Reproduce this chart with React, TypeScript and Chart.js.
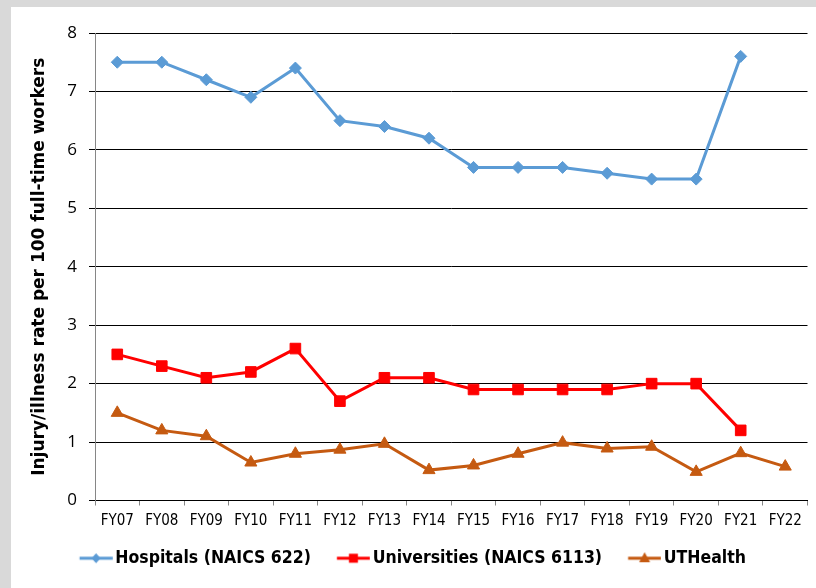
import React, { useEffect, useRef } from "react";
import { Chart, registerables } from "chart.js";

Chart.register(...registerables);

const categories = ["FY07", "FY08", "FY09", "FY10", "FY11", "FY12", "FY13", "FY14", "FY15", "FY16", "FY17", "FY18", "FY19", "FY20", "FY21", "FY22"];
const hospitals = [7.5, 7.5, 7.2, 6.9, 7.4, 6.5, 6.4, 6.2, 5.7, 5.7, 5.7, 5.6, 5.5, 5.5, 7.6, null];
const universities = [2.5, 2.3, 2.1, 2.2, 2.6, 1.7, 2.1, 2.1, 1.9, 1.9, 1.9, 1.9, 2.0, 2.0, 1.2, null];
const uthealth = [1.5, 1.2, 1.1, 0.65, 0.8, 0.87, 0.97, 0.52, 0.6, 0.8, 0.99, 0.89, 0.92, 0.49, 0.81, 0.58];
const seriesNames = ["Hospitals (NAICS 622)", "Universities (NAICS 6113)", "UTHealth"];
const seriesColors = ["#5b9bd5", "#ff0000", "#c55a11"];
const yMin = 0;
const yMax = 8;
const yStep = 1;
const yTitle = "Injury/illness rate per 100 full-time workers";

const condensed = "'DejaVu Sans Condensed', 'Liberation Sans Narrow', sans-serif";

function makeIcon(color: string, shape: string): HTMLCanvasElement {
  const c = document.createElement("canvas");
  c.width = 46;
  c.height = 14;
  const ctx = c.getContext("2d")!;
  ctx.strokeStyle = color;
  ctx.fillStyle = color;
  ctx.lineWidth = 3;
  const x0 = 12.75;
  const x1 = 45.75;
  ctx.beginPath();
  ctx.moveTo(x0, 7);
  ctx.lineTo(x1, 7);
  ctx.stroke();
  const cx = (x0 + x1) / 2, cy = 7;
  ctx.beginPath();
  if (shape === "diamond") {
    ctx.moveTo(cx, cy - 5);
    ctx.lineTo(cx + 4.5, cy);
    ctx.lineTo(cx, cy + 5);
    ctx.lineTo(cx - 4.5, cy);
  } else if (shape === "square") {
    ctx.rect(cx - 4.5, cy - 4.5, 9, 9);
  } else {
    ctx.moveTo(cx, cy - 6);
    ctx.lineTo(cx + 5.5, cy + 4);
    ctx.lineTo(cx - 5.5, cy + 4);
  }
  ctx.closePath();
  ctx.fill();
  return c;
}

export default function App() {
  const ref = useRef<HTMLCanvasElement>(null);
  useEffect(() => {
    const icons = [
      makeIcon(seriesColors[0], "diamond"),
      makeIcon(seriesColors[1], "square"),
      makeIcon(seriesColors[2], "triangle"),
    ];
    const mk = (i: number, data: (number | null)[], style: string, radius: number) => ({
      label: seriesNames[i],
      data,
      borderColor: seriesColors[i],
      backgroundColor: seriesColors[i],
      pointBackgroundColor: seriesColors[i],
      pointBorderColor: seriesColors[i],
      borderWidth: 3,
      pointStyle: style,
      pointRadius: radius,
      pointBorderWidth: 1,
    });
    const chart = new Chart(ref.current!, {
      type: "line",
      data: {
        labels: categories,
        datasets: [
          mk(0, hospitals, "rectRot", 6),
          mk(1, universities, "rect", 7.5),
          mk(2, uthealth, "triangle", 7),
        ],
      },
      options: {
        responsive: false,
        animation: false,
        layout: { padding: { left: 0, right: 8, top: 26, bottom: 11 } },
        plugins: {
          tooltip: { enabled: false },
          legend: {
            position: "bottom",
            labels: {
              usePointStyle: true,
              pointStyleWidth: 33.5,
              padding: 19.5,
              color: "#000",
              font: { family: condensed, size: 17.5, weight: "bold" },
              generateLabels: (ch: any) => {
                const items = Chart.defaults.plugins.legend.labels.generateLabels(ch);
                return items.map((it: any, i: number) => ({ ...it, pointStyle: icons[i] }));
              },
            },
          },
        },
        scales: {
          x: {
            type: "category",
            offset: true,
            grid: { offset: true, drawOnChartArea: false, drawTicks: true, tickLength: 5, color: "#868686" },
            border: { color: "#000", width: 1 },
            ticks: { color: "#000", font: { family: condensed, size: 15 }, padding: 7, maxRotation: 0, autoSkip: false },
            afterFit: (s: any) => {
              s.height = 29.5;
            },
          },
          y: {
            min: yMin,
            max: yMax,
            ticks: { stepSize: yStep, color: "#000", font: { family: "'Open Sans'", size: 17 }, padding: 12 },
            grid: { color: "#000", tickLength: 6, lineWidth: 1 },
            border: { color: "#868686", width: 1 },
            title: {
              display: true,
              text: yTitle,
              color: "#000",
              font: { family: "'DejaVu Sans'", size: 17, weight: "bold" },
              padding: { top: 18, bottom: 0 },
            },
            afterFit: (s: any) => {
              s.width = 84;
            },
          },
        },
      },
    } as any);
    return () => chart.destroy();
  }, []);
  return (
    <div style={{ position: "fixed", left: 0, top: 0, width: 816, height: 588, background: "#d9d9d9" }}>
      <div style={{ position: "absolute", left: 11, top: 7, width: 805, height: 581, background: "#fff" }}>
        <canvas ref={ref} width={805} height={581} style={{ display: "block", width: 805, height: 581 }} />
      </div>
    </div>
  );
}
